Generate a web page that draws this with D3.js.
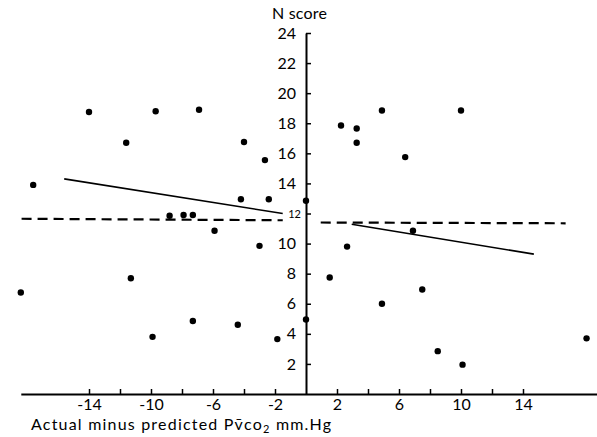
<!DOCTYPE html>
<html>
<head>
<meta charset="utf-8">
<script src="https://cdn.jsdelivr.net/npm/d3@7"></script>
<style>
  body { margin: 0; background: #fff; }
  text { font-family: Lato, 'DejaVu Sans', sans-serif; fill: #000; }
</style>
</head>
<body>
<svg></svg>
<script>
// ---------------- datos ----------------
let diffValues  = [-17.6, -14.0, -9.7, -6.9, -11.6, -4.0, -2.65, -4.2, -2.4, -8.8, -7.9, -7.3, -5.9,
                   2.26, 3.27, 3.27, 4.9, 10.0, 6.4, 0, 6.9,
                   -3.0, -11.3, -18.4, -7.3, -4.4, -9.9, -1.85,
                   2.65, 1.53, 7.5, 4.9, 0, 18.1, 8.5, 10.1]
let scoreValues = [13.9, 18.75, 18.8, 18.9, 16.7, 16.75, 15.55, 12.95, 12.95, 11.85, 11.9, 11.9, 10.85,
                   17.85, 17.65, 16.7, 18.85, 18.85, 15.75, 12.85, 10.85,
                   9.85, 7.7, 6.75, 4.85, 4.6, 3.8, 3.65,
                   9.8, 7.75, 6.95, 6.0, 4.95, 3.7, 2.85, 1.95]

// rectas de regresion (solidas) y linea media (discontinua)
let leftFitX  = [-15.6, -1.5]
let leftFitY  = [14.3, 12.0]
let rightFitX = [2.95, 14.7]
let rightFitY = [11.28, 9.3]
let meanLeftX  = [-18.35, -1.5]
let meanLeftY  = [11.65, 11.55]
let meanRightX = [0.95, 16.75]
let meanRightY = [11.4, 11.35]

let xTicks = [-14, -12, -10, -8, -6, -4, -2, 2, 4, 6, 8, 10, 12, 14]
let xTickLabels = ['-14', '-10', '-6', '-2', '2', '6', '10', '14']
let yTicks = [2, 4, 6, 8, 10, 12, 14, 16, 18, 20, 22, 24]

let width = 597
let height = 437

let svg = d3.select('svg')
let xScale
let yScale

let drawCanvas = () => {
  svg.attr('width', width)
  svg.attr('height', height)
}

let generateScales = () => {
  xScale = d3.scaleLinear()
             .domain([-18.4, 18.8])
             .range([20.8, 597.4])
  yScale = d3.scaleLinear()
             .domain([0, 24])
             .range([394, 33])
}

let generateAxes = () => {
  let xAxis = d3.axisBottom(xScale)
                .tickValues(xTicks)
                .tickSize(-5)
                .tickSizeOuter(0)
                .tickPadding(5)
                .tickFormat((d) => xTickLabels.includes(String(d)) ? String(d) : '')

  let yAxis = d3.axisLeft(yScale)
                .tickValues(yTicks)
                .tickSize(-5)
                .tickSizeOuter(0)
                .tickPadding(10)
                .tickFormat((d) => String(d))

  let gx = svg.append('g')
     .attr('id', 'x-axis')
     .attr('transform', 'translate(0,' + yScale(0) + ')')
     .call(xAxis)

  let gy = svg.append('g')
     .attr('id', 'y-axis')
     .attr('transform', 'translate(' + xScale(0) + ',0)')
     .call(yAxis)

  gx.select('.domain').attr('stroke-width', 2)
  gy.select('.domain').attr('stroke-width', 2)
  svg.selectAll('.tick line').attr('stroke-width', 1.5)
  svg.selectAll('.tick text')
     .style('font-size', '16px')
     .attr('fill', '#000')

  // el 12 va mas pequeño y pegado al eje
  gy.selectAll('.tick text')
    .filter((d) => d === 12)
    .style('font-size', '11px')
    .attr('x', -5)
}

let drawLines = () => {
  let line = d3.line()
               .x((d) => xScale(d[0]))
               .y((d) => yScale(d[1]))

  let solid = [d3.zip(leftFitX, leftFitY), d3.zip(rightFitX, rightFitY)]
  let dashed = [d3.zip(meanLeftX, meanLeftY), d3.zip(meanRightX, meanRightY)]

  svg.selectAll('.fit')
     .data(solid)
     .enter()
     .append('path')
     .attr('class', 'fit')
     .attr('d', line)
     .attr('fill', 'none')
     .attr('stroke', '#000')
     .attr('stroke-width', 1.6)

  svg.selectAll('.mean')
     .data(dashed)
     .enter()
     .append('path')
     .attr('class', 'mean')
     .attr('d', line)
     .attr('fill', 'none')
     .attr('stroke', '#000')
     .attr('stroke-width', 2.2)
     .attr('stroke-dasharray', '10,6')
}

let drawPoints = () => {
  svg.selectAll('circle')
     .data(d3.zip(diffValues, scoreValues))
     .enter()
     .append('circle')
     .attr('r', 3.2)
     .attr('cx', (d) => xScale(d[0]))
     .attr('cy', (d) => yScale(d[1]))
     .attr('fill', '#000')
}

let drawLabels = () => {
  svg.append('text')
     .attr('x', 272)
     .attr('y', 19)
     .style('font-size', '16px')
     .style('letter-spacing', '0.2px')
     .text('N score')

  let xl = svg.append('text')
     .attr('x', 31)
     .attr('y', 430)
     .style('font-size', '16px')
     .style('letter-spacing', '1.2px')
  xl.append('tspan').text('Actual minus predicted P\u0076\u0304co')
  xl.append('tspan').attr('dy', 3).style('font-size', '11px').text('2')
  xl.append('tspan').attr('dy', -3).text(' mm.Hg')
}

drawCanvas()
generateScales()
drawLines()
drawPoints()
generateAxes()
drawLabels()
</script>
</body>
</html>
